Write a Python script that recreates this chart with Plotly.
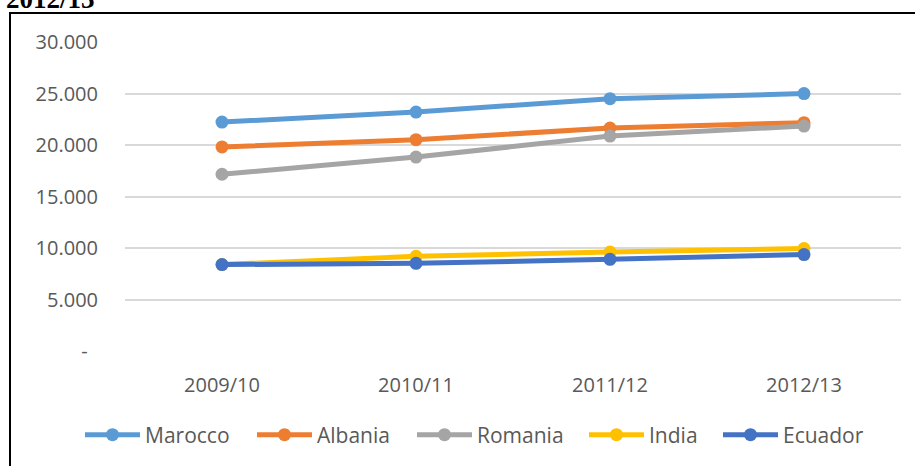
import plotly.graph_objects as go

years = ["2009/10", "2010/11", "2011/12", "2012/13"]
marocco = [22230, 23200, 24500, 24990]
albania = [19810, 20520, 21650, 22170]
romania = [17160, 18830, 20870, 21840]
india = [8400, 9190, 9610, 9940]
ecuador = [8390, 8510, 8900, 9360]

series = [
    ("Marocco", marocco, "#5B9BD5"),
    ("Albania", albania, "#ED7D31"),
    ("Romania", romania, "#A5A5A5"),
    ("India", india, "#FFC000"),
    ("Ecuador", ecuador, "#4472C4"),
]

y_tickvals = [0, 5000, 10000, 15000, 20000, 25000, 30000]
y_ticktext = ["-\u00a0\u00a0", "5.000", "10.000", "15.000", "20.000", "25.000", "30.000"]

W, H = 915, 466
L, R, T, B = 125, 14, 42, 115
pw, ph = W - L - R, H - T - B

# pixel where each legend entry's line begins
legend_x_px = [85, 257, 417, 589, 723]


def px_x(px):
    return (px - L) / pw


def px_y(py):
    return (H - B - py) / ph


font = "Open Sans, Noto Sans, sans-serif"

fig = go.Figure()
legends = {}
for i, (name, vals, color) in enumerate(series):
    key = "legend" if i == 0 else f"legend{i + 1}"
    fig.add_trace(go.Scatter(
        x=years, y=vals, name=name, mode="lines+markers",
        line=dict(color=color, width=5),
        marker=dict(color=color, size=13),
        legend=key,
    ))
    legends[key] = dict(
        orientation="h", xref="container", yref="container",
        x=(legend_x_px[i] - 5) / W, xanchor="left",
        y=1 - 435 / H, yanchor="middle",
        font=dict(family=font, size=21, color="#595959"),
        itemwidth=55, bgcolor="rgba(0,0,0,0)",
    )

fig.update_layout(
    width=W, height=H,
    margin=dict(l=L, r=R, t=T, b=B, autoexpand=False),
    paper_bgcolor="white", plot_bgcolor="white",
    font=dict(family=font, size=20, color="#595959"),
    showlegend=True,
    xaxis=dict(
        range=[-0.5, 3.5],
        showgrid=False, showline=False, zeroline=False,
        ticks="", ticklabelstandoff=20,
        tickfont=dict(family=font, size=20, color="#595959"),
    ),
    yaxis=dict(
        range=[0, 30000], tickvals=y_tickvals, ticktext=y_ticktext,
        showgrid=True, gridcolor="#D9D9D9", gridwidth=1.5,
        zeroline=False, showline=False, ticks="",
        ticklabelstandoff=26,
        tickfont=dict(family=font, size=20, color="#595959"),
    ),
    shapes=[
        dict(type="line", xref="paper", yref="paper",
             x0=px_x(10), x1=px_x(10), y0=px_y(12), y1=px_y(470),
             line=dict(color="black", width=2)),
        dict(type="line", xref="paper", yref="paper",
             x0=px_x(9), x1=px_x(920), y0=px_y(13), y1=px_y(13),
             line=dict(color="black", width=2)),
    ],
    annotations=[
        dict(text="<b>2012/13</b>", xref="paper", yref="paper",
             x=px_x(4), xanchor="left", y=px_y(-1), yanchor="middle",
             showarrow=False,
             font=dict(family="Liberation Serif, serif", size=27, color="black")),
    ],
    **legends,
)

fig.write_html("out.html", config={"displayModeBar": False},
               post_script="document.body.style.margin='0';")
